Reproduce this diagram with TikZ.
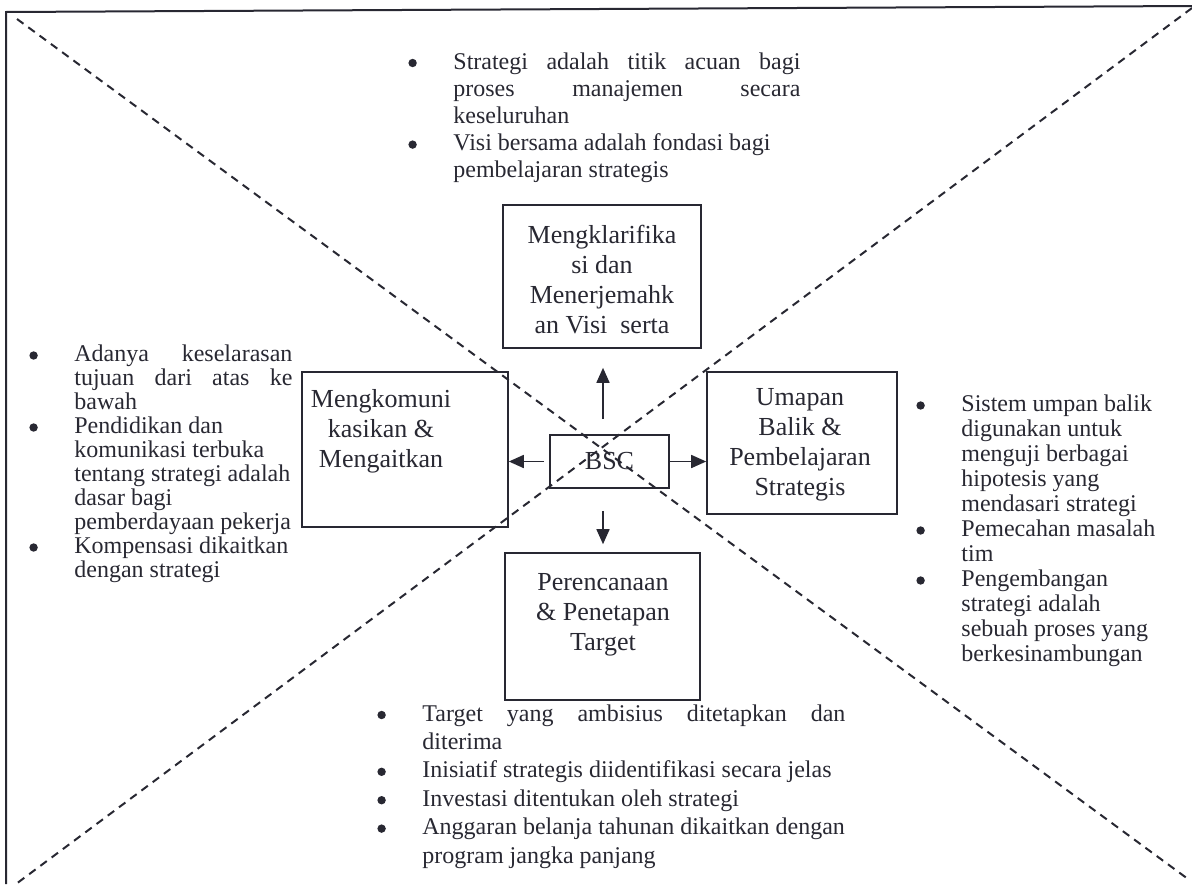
\documentclass[tikz,border=0pt]{standalone}
\usepackage{fontspec}
\setmainfont{Liberation Serif}
\usetikzlibrary{arrows.meta,calc}
\definecolor{ink}{RGB}{40,40,50}
% round list mark, centred on the x-height
\newcommand{\bdot}{\tikz[baseline=0pt]\fill[ink] (2.1pt,3pt) circle (2.1pt);}
\begin{document}
\begin{tikzpicture}[x=0.5pt,y=-0.5pt,
  every node/.style={text=ink},
  frameline/.style={draw=ink,line width=1pt},
  diag/.style={draw=ink,line width=1pt,dash pattern=on 4pt off 3pt},
  box/.style={draw=ink,line width=0.8pt,inner sep=0pt},
  boxtext/.style={align=center,inner sep=0pt},
  arr/.style={draw=ink,line width=0.8pt,-{Triangle[length=7.5pt,width=6.5pt]}},
  bullets/.style={anchor=base west,inner sep=0pt}
]
\useasboundingbox (0,0) rectangle (1192,884);

% outer frame (top and left edges)
\coordinate (f0) at (6,884);
\coordinate (f1) at (6,12);
\coordinate (f2) at (1192,6);
\draw[frameline] (f0) -- (f1) -- (f2);

% dashed diagonals
\coordinate (tl) at (17,19);
\coordinate (br) at (1188,879);
\coordinate (tr) at (1192,8);
\coordinate (bl) at (16,884);
\draw[diag] (tl) -- (br);
\draw[diag] (tr) -- (bl);

% boxes
\node[box,minimum width=99pt,minimum height=71.5pt] (top) at (602,276.5) {};
\node[box,minimum width=103pt,minimum height=77.5pt] (left) at (405,449.5) {};
\node[box,minimum width=95pt,minimum height=71pt] (right) at (802,443) {};
\node[box,minimum width=97.5pt,minimum height=73.5pt] (bot) at (602.5,626.5) {};
\node[box,minimum width=59.5pt,minimum height=26.5pt] (bsc) at (609.5,461.5) {};

% box captions
\begin{scope}[font=\fontsize{13}{15}\selectfont]
\node[boxtext] (toptxt) at (602,280) {Mengklarifika\\si dan\\Menerjemahk\\an Visi\ \ serta};
\node[boxtext] (lefttxt) at (381,431) {Mengkomuni\\kasikan \&\\Mengaitkan};
\node[boxtext] (righttxt) at (800,445) {Umapan\\Balik \&\\Pembelajaran\\Strategis};
\node[boxtext] (bottxt) at (603,615) {Perencanaan\\\& Penetapan\\Target};
\node[boxtext] (bsctxt) at (bsc) {BSC};
\end{scope}

% arrows from the centre
\draw[arr,shorten <=7.5pt,shorten >=9.5pt] ([xshift=-3.25pt]bsc.north) -- ([xshift=-3.25pt]bsc.north |- top.south);
\draw[arr,shorten <=11pt,shorten >=4pt] ([xshift=-3.25pt]bsc.south) -- ([xshift=-3.25pt]bsc.south |- bot.north);
\draw[arr] (bsc.east) -- (bsc.east -| right.west);
\draw[arr,shorten <=2.5pt] (bsc.west) -- (bsc.west -| left.east);

% bullet lists
\node[bullets,font=\fontsize{12}{13.6}\selectfont] (toplist) at (408,69) {%
\begin{tabular}[t]{@{}p{22.5pt}@{}l@{}}
\bdot & \makebox[173.5pt][s]{Strategi adalah titik acuan bagi}\\
 & \makebox[173.5pt][s]{proses manajemen secara}\\
 & keseluruhan\\
\bdot & Visi bersama adalah fondasi bagi\\
 & pembelajaran strategis
\end{tabular}};

\node[bullets,font=\fontsize{12}{12}\selectfont] (leftlist) at (29,361.5) {%
\begin{tabular}[t]{@{}p{22.5pt}@{}l@{}}
\bdot & \makebox[109pt][s]{Adanya keselarasan}\\
 & \makebox[109pt][s]{tujuan dari atas ke}\\
 & bawah\\
\bdot & Pendidikan dan\\
 & komunikasi terbuka\\
 & tentang strategi adalah\\
 & dasar bagi\\
 & pemberdayaan pekerja\\
\bdot & Kompensasi dikaitkan\\
 & dengan strategi
\end{tabular}};

\node[bullets,font=\fontsize{12}{12.5}\selectfont] (rightlist) at (916,411.5) {%
\begin{tabular}[t]{@{}p{22.5pt}@{}l@{}}
\bdot & Sistem umpan balik\\
 & digunakan untuk\\
 & menguji berbagai\\
 & hipotesis yang\\
 & mendasari strategi\\
\bdot & Pemecahan masalah\\
 & tim\\
\bdot & Pengembangan\\
 & strategi adalah\\
 & sebuah proses yang\\
 & berkesinambungan
\end{tabular}};

\node[bullets,font=\fontsize{12}{14.2}\selectfont] (botlist) at (377,721) {%
\begin{tabular}[t]{@{}p{22.5pt}@{}l@{}}
\bdot & \makebox[211.5pt][s]{Target yang ambisius ditetapkan dan}\\
 & diterima\\
\bdot & Inisiatif strategis diidentifikasi secara jelas\\
\bdot & Investasi ditentukan oleh strategi\\
\bdot & Anggaran belanja tahunan dikaitkan dengan\\
 & program jangka panjang
\end{tabular}};
\end{tikzpicture}
\end{document}
